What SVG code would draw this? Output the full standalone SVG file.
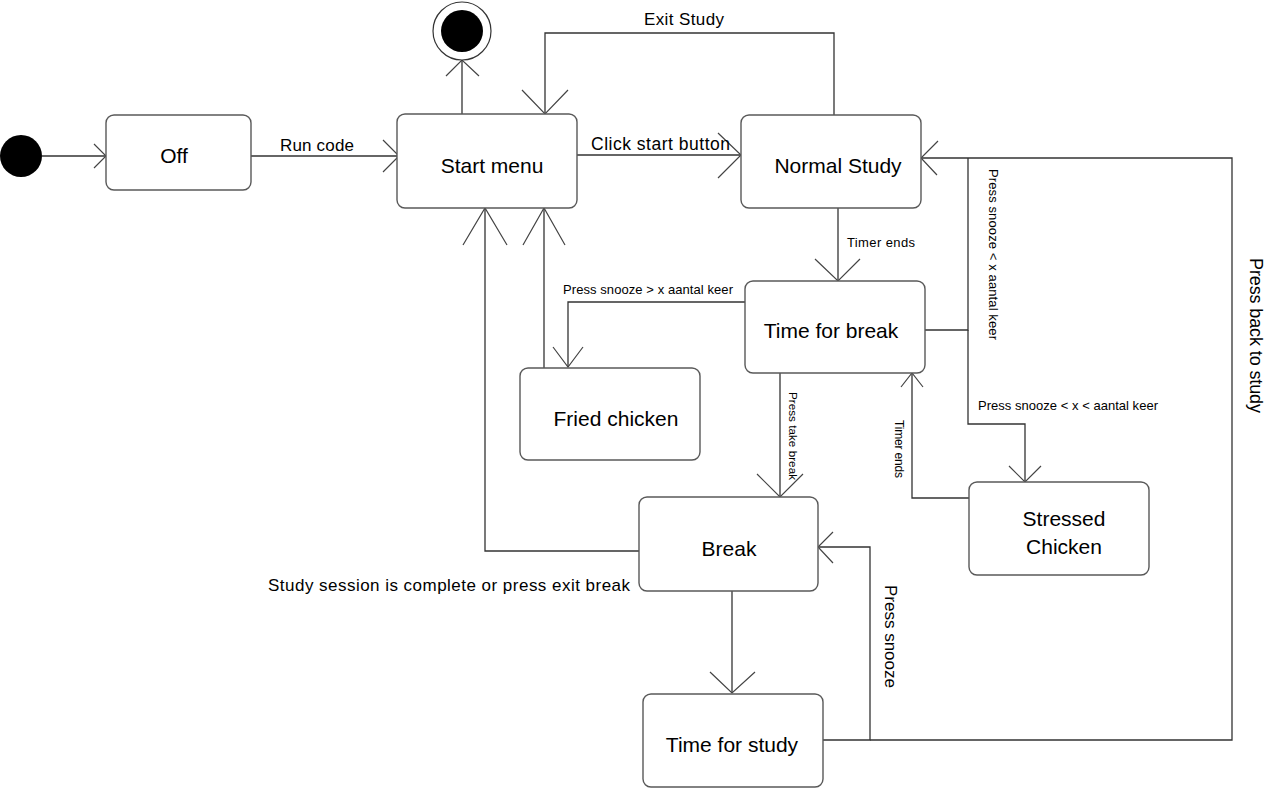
<svg xmlns="http://www.w3.org/2000/svg" width="1275" height="788" viewBox="0 0 1275 788">
<style>
.box{fill:#fff;stroke:#595959;stroke-width:1.4}
.ln{fill:none;stroke:#333;stroke-width:1.3}
.ah{fill:none;stroke:#444;stroke-width:1.2}
.nt{font-family:"Liberation Sans",Arial,sans-serif;font-size:21px;fill:#000;text-anchor:middle}
.lb{font-family:"Liberation Sans",Arial,sans-serif;fill:#000}
</style>
<rect width="1275" height="788" fill="#fff"/>
<g id="connectors">
<polyline class="ln" points="42,156 106,156"/>
<polyline class="ah" points="94,144 106,156 94,168"/>
<polyline class="ln" points="251,156 399,156"/>
<polyline class="ah" points="383,140 399,156 383,172"/>
<polyline class="ln" points="462,114 462,60"/>
<polyline class="ah" points="446,76 462,60 479,76"/>
<polyline class="ln" points="834,115 834,33 545,33 545,114"/>
<polyline class="ah" points="522,90 545,114 568,90"/>
<polyline class="ln" points="577,155 741,155"/>
<polyline class="ah" points="718,133 741,155 718,178"/>
<polyline class="ln" points="838,208 838,281"/>
<polyline class="ah" points="815,259 838,281 860,259"/>
<polyline class="ln" points="745,302 568,302 568,367"/>
<polyline class="ah" points="553,347 568,367 583,347"/>
<polyline class="ln" points="544,368 544,208"/>
<polyline class="ah" points="523,245 544,208 565,245"/>
<polyline class="ln" points="639,551 485,551 485,208"/>
<polyline class="ah" points="463,245 485,208 507,245"/>
<polyline class="ln" points="780,373 780,497"/>
<polyline class="ah" points="757,474 780,497 803,474"/>
<polyline class="ln" points="732,591 732,693"/>
<polyline class="ah" points="710,672 732,693 755,672"/>
<polyline class="ln" points="823,740 870,740 870,547 818,547"/>
<polyline class="ah" points="833,532 818,547 833,563"/>
<polyline class="ln" points="870,740 1232,740 1232,158 921,158"/>
<polyline class="ah" points="938,141 921,158 937,175"/>
<polyline class="ln" points="925,330 968,330 968,158"/>
<polyline class="ln" points="968,330 968,424 1025,424 1025,482"/>
<polyline class="ah" points="1009,466 1025,482 1041,466"/>
<polyline class="ln" points="969,498 912,498 912,373"/>
<polyline class="ah" points="901,387 912,373 923,387"/>
</g>
<g id="labels">
<text class="lb" x="280" y="151" font-size="17" textLength="74">Run code</text>
<text class="lb" x="644" y="25" font-size="17" textLength="80">Exit Study</text>
<text class="lb" x="591" y="150" font-size="17.5" textLength="139">Click start button</text>
<text class="lb" x="847" y="247" font-size="13" textLength="68">Timer ends</text>
<text class="lb" x="563" y="294" font-size="13" textLength="170">Press snooze &gt; x aantal keer</text>
<text class="lb" x="268" y="591" font-size="17" textLength="362">Study session is complete or press exit break</text>
<text class="lb" x="978" y="410" font-size="13" textLength="180">Press snooze &lt; x &lt; aantal keer</text>
<text class="lb" font-size="18" transform="translate(1250,258) rotate(90)" textLength="155">Press back to study</text>
<text class="lb" font-size="17" transform="translate(885,585) rotate(90)" textLength="103">Press snooze</text>
<text class="lb" font-size="13" transform="translate(989,169) rotate(90)" textLength="171">Press snooze &lt; x aantal keer</text>
<text class="lb" font-size="11.7" transform="translate(789,392) rotate(90)" textLength="88">Press take break</text>
<text class="lb" font-size="12" transform="translate(895,420) rotate(90)" textLength="58">Timer ends</text>
</g>
<g id="initial"><circle cx="21" cy="156" r="21" fill="#000"/></g>
<g id="final"><circle cx="462" cy="31" r="29" fill="#fff" stroke="#333" stroke-width="1.2"/><circle cx="462" cy="31" r="21" fill="#000"/></g>
<g id="off"><rect class="box" x="106" y="115" width="145" height="75" rx="8"/><text class="nt" x="174" y="163">Off</text></g>
<g id="start-menu"><rect class="box" x="397" y="114" width="180" height="94" rx="8"/><text class="nt" x="492" y="173">Start menu</text></g>
<g id="normal-study"><rect class="box" x="741" y="115" width="180" height="93" rx="8"/><text class="nt" x="838" y="173">Normal Study</text></g>
<g id="time-for-break"><rect class="box" x="745" y="281" width="180" height="92" rx="8"/><text class="nt" x="831" y="338">Time for break</text></g>
<g id="fried-chicken"><rect class="box" x="520" y="368" width="180" height="92" rx="8"/><text class="nt" x="616" y="426">Fried chicken</text></g>
<g id="break"><rect class="box" x="639" y="497" width="179" height="94" rx="8"/><text class="nt" x="729" y="556">Break</text></g>
<g id="stressed-chicken"><rect class="box" x="969" y="482" width="180" height="93" rx="8"/><text class="nt" x="1064" y="526">Stressed</text><text class="nt" x="1064" y="554">Chicken</text></g>
<g id="time-for-study"><rect class="box" x="643" y="694" width="180" height="93" rx="8"/><text class="nt" x="732" y="752">Time for study</text></g>
</svg>
